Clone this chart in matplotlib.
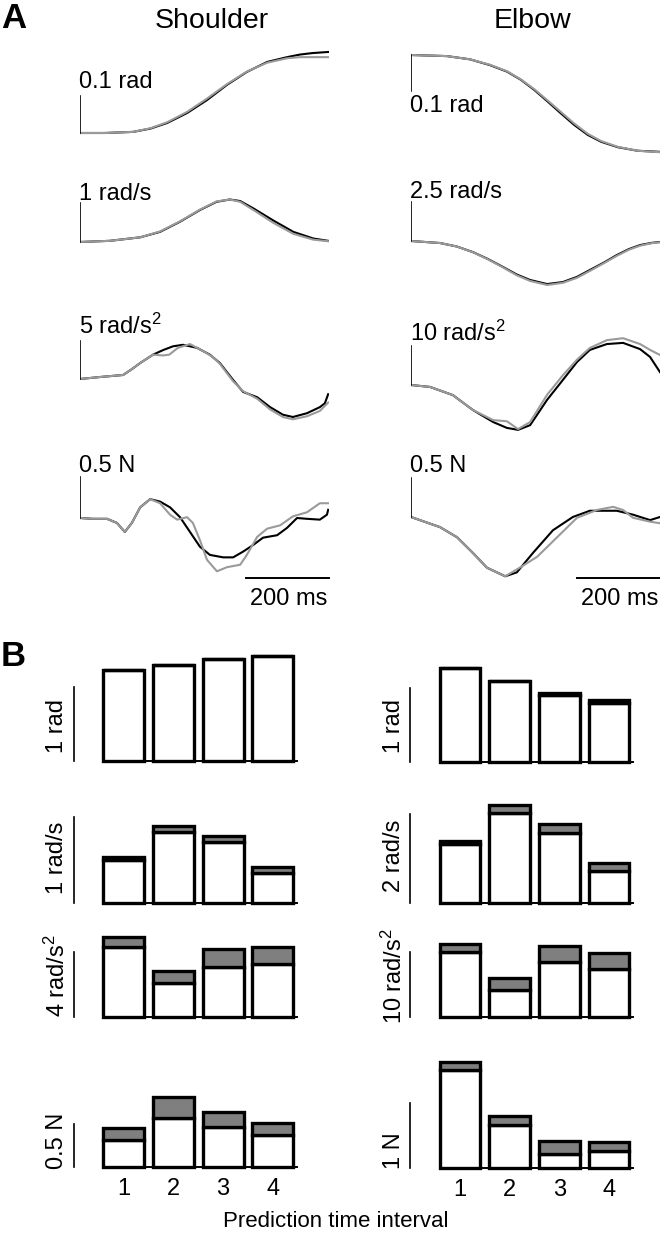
import matplotlib
matplotlib.use('Agg')
import matplotlib.pyplot as plt

plt.rcParams['font.family'] = ['Liberation Sans', 'DejaVu Sans']
plt.rcParams['mathtext.fontset'] = 'custom'
plt.rcParams['mathtext.rm'] = 'Liberation Sans'
plt.rcParams['mathtext.it'] = 'Liberation Sans'
plt.rcParams['mathtext.default'] = 'rm'

# ---- panel A traces (time in ms; black = measured, gray = model) ----
sh_pos_t = [0, 60, 128, 170, 210, 258, 306, 354, 402, 451, 499, 530, 560, 598]
sh_pos_black = [0, 0.0, 0.003, 0.012, 0.027, 0.054, 0.089, 0.130, 0.165, 0.192, 0.205, 0.212, 0.216, 0.219]
sh_pos_gray = [0, 0.0, 0.003, 0.013, 0.029, 0.057, 0.093, 0.132, 0.166, 0.190, 0.202, 0.205, 0.205, 0.205]

el_pos_t = [0, 86, 142, 190, 231, 265, 297, 330, 361, 393, 426, 458, 498, 546, 600]
el_pos_black = [0, -0.003, -0.012, -0.028, -0.046, -0.069, -0.097, -0.130, -0.162, -0.194, -0.222, -0.241, -0.256, -0.266, -0.269]
el_pos_gray = [0, -0.003, -0.012, -0.027, -0.045, -0.068, -0.095, -0.127, -0.158, -0.190, -0.219, -0.239, -0.255, -0.266, -0.270]

sh_vel_t = [0, 72, 145, 193, 241, 289, 329, 361, 386, 418, 466, 514, 562, 598]
sh_vel_black = [0, 0.03, 0.12, 0.26, 0.52, 0.82, 1.03, 1.09, 1.05, 0.86, 0.55, 0.26, 0.09, 0.03]
sh_vel_gray = [0, 0.03, 0.12, 0.27, 0.53, 0.83, 1.04, 1.09, 1.03, 0.82, 0.49, 0.21, 0.06, 0.02]

el_vel_t = [0, 70, 110, 149, 185, 222, 255, 287, 328, 366, 400, 431, 465, 496, 525, 552, 580, 600]
el_vel_black = [0, -0.13, -0.35, -0.71, -1.15, -1.67, -2.15, -2.5, -2.76, -2.63, -2.3, -1.86, -1.38, -0.90, -0.52, -0.26, -0.12, -0.06]
el_vel_gray = [0, -0.13, -0.35, -0.72, -1.17, -1.70, -2.20, -2.56, -2.82, -2.68, -2.36, -1.92, -1.42, -0.95, -0.56, -0.30, -0.14, -0.08]

sh_acc_tb = [0, 48, 104, 125, 145, 176, 200, 224, 248, 282, 313, 337, 369, 393, 427, 458, 489, 513, 547, 578, 590, 598]
sh_acc_black = [0, 0.26, 0.53, 1.3, 2.1, 3.2, 3.8, 4.3, 4.5, 4.1, 3.2, 2.1, -0.13, -1.7, -2.4, -3.7, -4.7, -5.0, -4.5, -3.7, -3.2, -2.0]
sh_acc_tg = [0, 48, 104, 125, 145, 176, 200, 215, 236, 265, 299, 320, 337, 369, 393, 427, 458, 489, 513, 547, 578, 598]
sh_acc_gray = [0, 0.26, 0.53, 1.3, 2.1, 3.2, 3.1, 3.2, 4.1, 4.6, 3.6, 2.9, 2.0, -0.3, -1.6, -2.6, -4.0, -5.0, -5.3, -4.9, -4.2, -3.1]

el_acc_t = [0, 46, 101, 149, 198, 231, 258, 287, 328, 366, 400, 431, 472, 511, 552, 576, 600]
el_acc_black = [0, -0.5, -2.6, -6.4, -9.5, -11.0, -11.5, -10.3, -3.8, 1.3, 5.9, 9.0, 10.5, 10.8, 9.2, 7.2, 3.3]
el_acc_gray = [0, -0.5, -2.6, -6.4, -9.0, -9.3, -11.3, -9.5, -2.5, 2.5, 6.5, 9.5, 11.5, 12.0, 10.5, 9.0, 7.7]

sh_frc_tb = [0, 31, 65, 89, 108, 125, 145, 169, 193, 217, 241, 265, 289, 313, 345, 369, 393, 417, 441, 475, 499, 523, 547, 578, 595, 598]
sh_frc_black = [0, -0.01, -0.01, -0.06, -0.17, -0.06, 0.13, 0.23, 0.20, 0.13, 0.01, -0.17, -0.35, -0.45, -0.48, -0.48, -0.41, -0.33, -0.24, -0.21, -0.12, 0.0, -0.01, -0.02, 0.04, 0.10]
sh_frc_tg = [0, 31, 65, 89, 108, 125, 145, 169, 193, 217, 234, 258, 272, 289, 306, 330, 354, 386, 402, 427, 451, 482, 513, 547, 578, 598]
sh_frc_gray = [0, -0.01, -0.01, -0.06, -0.17, -0.06, 0.13, 0.23, 0.18, 0.04, -0.02, 0.01, -0.06, -0.27, -0.51, -0.65, -0.60, -0.57, -0.45, -0.23, -0.13, -0.09, 0.02, 0.07, 0.18, 0.18]

el_frc_tb = [0, 70, 111, 149, 183, 227, 255, 294, 342, 390, 431, 496, 535, 576, 600]
el_frc_black = [0, -0.13, -0.26, -0.46, -0.65, -0.76, -0.71, -0.46, -0.17, 0.0, 0.08, 0.08, 0.03, -0.04, 0.0]
el_frc_tg = [0, 70, 111, 149, 183, 227, 262, 304, 352, 400, 448, 487, 511, 535, 576, 600]
el_frc_gray = [0, -0.13, -0.26, -0.46, -0.65, -0.76, -0.65, -0.51, -0.26, -0.01, 0.09, 0.13, 0.09, -0.01, -0.06, -0.08]

# ---- panel B bars: white = lower part, total = top of gray part ----
intervals = [1, 2, 3, 4]
sh_pos_white = [1.23, 1.30, 1.38, 1.42]
sh_pos_total = [1.23, 1.30, 1.38, 1.42]
el_pos_white = [1.27, 1.09, 0.91, 0.80]
el_pos_total = [1.27, 1.09, 0.93, 0.84]
sh_vel_white = [0.50, 0.83, 0.71, 0.35]
sh_vel_total = [0.53, 0.90, 0.78, 0.42]
el_vel_white = [1.33, 2.02, 1.57, 0.72]
el_vel_total = [1.39, 2.20, 1.78, 0.90]
sh_acc_white = [4.31, 2.09, 3.08, 3.26]
sh_acc_total = [4.92, 2.83, 4.18, 4.31]
el_acc_white = [10.0, 4.15, 8.46, 7.38]
el_acc_total = [11.2, 6.0, 10.9, 9.8]
sh_frc_white = [0.31, 0.57, 0.47, 0.37]
sh_frc_total = [0.45, 0.81, 0.64, 0.51]
el_frc_white = [1.51, 0.66, 0.22, 0.26]
el_frc_total = [1.63, 0.80, 0.42, 0.40]

W, H = 660, 1233
fig = plt.figure(figsize=(W / 100, H / 100), dpi=100)
FS = 17
GRAY_LINE = '#9a9a9a'


def px_axes(x0, x1, top, bot):
    return fig.add_axes([x0 / W, 1 - bot / H, (x1 - x0) / W, (bot - top) / H])


def trace_panel(x0, y0, ppu, top, bot, tb, black, tg, gray, scale, label, dy):
    ax = px_axes(x0, x0 + 249, top, bot)
    ax.axis('off')
    ax.set_xlim(0, 600)
    ax.set_ylim((y0 - bot) / ppu, (y0 - top) / ppu)
    ax.plot(tb, black, color='black', lw=1.5, solid_joinstyle='round')
    ax.plot(tg, gray, color=GRAY_LINE, lw=1.5, solid_joinstyle='round')
    ax.plot([0, 0], [0, scale], color='black', lw=1.2)
    ax.annotate(label, (0, scale), xytext=(-1, dy), textcoords='offset points',
                fontsize=FS, ha='left', va='baseline')
    return ax


# shoulder column
trace_panel(80, 133, 370, 40, 150, sh_pos_t, sh_pos_black, sh_pos_t, sh_pos_gray, 0.1, '0.1 rad', 5.8)
trace_panel(80, 242, 39, 180, 265, sh_vel_t, sh_vel_black, sh_vel_t, sh_vel_gray, 1, '1 rad/s', 2.5)
trace_panel(80, 379, 7.6, 315, 430, sh_acc_tb, sh_acc_black, sh_acc_tg, sh_acc_gray, 5, r'5 rad/s$^2$', 5)
ax = trace_panel(80, 518, 82, 450, 610, sh_frc_tb, sh_frc_black, sh_frc_tg, sh_frc_gray, 0.5, '0.5 N', 3.6)
ax.plot([400, 600], [-0.732, -0.732], color='black', lw=1.4, clip_on=False)
ax.text(504, -1.061, '200 ms', fontsize=FS, ha='center', va='baseline')

# elbow column
trace_panel(411, 55, 360, 40, 160, el_pos_t, el_pos_black, el_pos_t, el_pos_gray, -0.1, '0.1 rad', -15)
trace_panel(411, 241, 15.6, 180, 290, el_vel_t, el_vel_black, el_vel_t, el_vel_gray, 2.5, '2.5 rad/s', 3)
trace_panel(411, 385, 3.9, 315, 440, el_acc_t, el_acc_black, el_acc_t, el_acc_gray, 10, r'10 rad/s$^2$', 3.6)
ax = trace_panel(411, 517, 78, 450, 610, el_frc_tb, el_frc_black, el_frc_tg, el_frc_gray, 0.5, '0.5 N', 4.3)
ax.plot([400, 600], [-0.782, -0.782], color='black', lw=1.4, clip_on=False)
ax.text(504, -1.128, '200 ms', fontsize=FS, ha='center', va='baseline')


def bar_panel(c1, sx, y0, ppu, top, bot, white, total, scale, label, lab_y, ticks=False):
    ax = px_axes(c1 - 1.6 * sx, c1 + 3.6 * sx, top, bot)
    ax.set_xlim(-0.6, 4.6)
    ax.set_ylim((y0 - bot) / ppu, (y0 - top) / ppu)
    for s in ax.spines.values():
        s.set_visible(False)
    ax.set_yticks([])
    gray = [t - w for t, w in zip(total, white)]
    ax.bar(intervals, white, 0.82, color='white', edgecolor='black', lw=2.4, zorder=2, clip_on=False)
    ax.bar(intervals, gray, 0.82, bottom=white, color='#7f7f7f', edgecolor='black', lw=2.4,
           zorder=2, clip_on=False)
    ax.plot([0.59, 4.48], [0, 0], color='black', lw=1.4, zorder=3)
    ax.plot([0, 0], [0, scale], color='black', lw=1.2)
    ax.text(-0.33, lab_y, label, rotation=90, ha='center', va='center', fontsize=FS)
    if ticks:
        ax.set_xticks(intervals)
        ax.set_xticklabels([str(i) for i in intervals])
        ax.tick_params(axis='x', length=0, pad=2, labelsize=FS)
    else:
        ax.set_xticks([])
    return ax


L1, LS = 123.5, 49.8
R1, RS = 460, 49.7
bar_panel(L1, LS, 761, 74, 645, 770, sh_pos_white, sh_pos_total, 1, '1 rad', 0.47)
bar_panel(R1, RS, 762, 74, 645, 770, el_pos_white, el_pos_total, 1, '1 rad', 0.49)
bar_panel(L1, LS, 903, 86, 790, 912, sh_vel_white, sh_vel_total, 1, '1 rad/s', 0.53)
bar_panel(R1, RS, 903, 44.5, 790, 912, el_vel_white, el_vel_total, 2, '2 rad/s', 1.06)
bar_panel(L1, LS, 1017, 16.25, 925, 1026, sh_acc_white, sh_acc_total, 4, r'4 rad/s$^2$', 2.52)
bar_panel(R1, RS, 1017, 6.5, 925, 1026, el_acc_white, el_acc_total, 10, r'10 rad/s$^2$', 6.3)
bar_panel(L1, LS, 1167, 86, 1040, 1175, sh_frc_white, sh_frc_total, 0.5, '0.5 N', 0.30, ticks=True)
bar_panel(R1, RS, 1168, 65, 1040, 1176, el_frc_white, el_frc_total, 1, '1 N', 0.26, ticks=True)

# titles and panel letters
fig.text(212 / W, 1 - 28 / H, 'Shoulder', fontsize=20.5, ha='center', va='baseline')
fig.text(533 / W, 1 - 28 / H, 'Elbow', fontsize=20.5, ha='center', va='baseline')
fig.text(1 / W, 1 - 28 / H, 'A', fontsize=25, fontweight='bold', ha='left', va='baseline')
fig.text(1 / W, 1 - 666 / H, 'B', fontsize=25, fontweight='bold', ha='left', va='baseline')
fig.text(336 / W, 1 - 1227 / H, 'Prediction time interval', fontsize=16, ha='center', va='baseline')

fig.savefig('out.png', dpi=100, facecolor='white')
